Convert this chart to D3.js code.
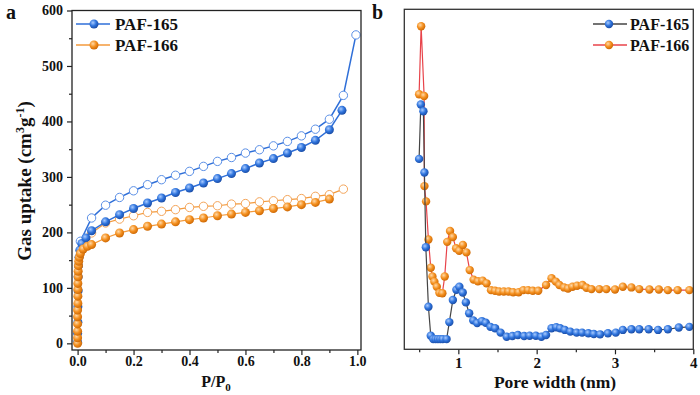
<!DOCTYPE html>
<html>
<head>
<meta charset="utf-8">
<script src="https://cdn.jsdelivr.net/npm/d3@7/dist/d3.min.js"></script>
<style>
  body { margin: 0; background: #fff; }
  svg { display: block; font-family: "Liberation Serif", "Times New Roman", serif; font-weight: bold; }
</style>
</head>
<body>
<svg id="canvas" width="700" height="395"></svg>
<script>
"use strict";

// === Panel a: N2 isotherms (P/P0, uptake cm3/g) ===
let paf165Ads = [
  [0.0, 2], [0.0, 18], [0.001, 38], [0.001, 66], [0.002, 95], [0.002, 120], [0.003, 140],
  [0.005, 155], [0.008, 168], [0.015, 180], [0.03, 190], [0.05, 203], [0.1, 219],
  [0.15, 232], [0.2, 243], [0.25, 253], [0.3, 262], [0.35, 272], [0.4, 280], [0.45, 289],
  [0.5, 297], [0.55, 306], [0.6, 315], [0.65, 325], [0.7, 333], [0.75, 343], [0.8, 353],
  [0.85, 366], [0.9, 385], [0.945, 420]
];
let paf165Des = [
  [0.995, 556], [0.95, 447], [0.9, 404], [0.85, 386], [0.8, 374], [0.75, 364], [0.7, 356],
  [0.65, 349], [0.6, 343], [0.55, 335], [0.5, 328], [0.45, 319], [0.4, 310], [0.35, 303],
  [0.3, 295], [0.25, 286], [0.2, 275], [0.15, 263], [0.1, 249], [0.05, 226], [0.01, 184]
];
let paf166Ads = [
  [0.0, 0], [0.0, 10], [0.0, 22], [0.0, 35], [0.0, 48], [0.0, 60], [0.001, 72], [0.001, 85],
  [0.001, 97], [0.001, 108], [0.002, 120], [0.002, 130], [0.003, 140], [0.004, 148],
  [0.006, 155], [0.01, 162], [0.02, 170], [0.035, 175], [0.05, 178], [0.1, 190],
  [0.15, 199], [0.2, 205], [0.25, 211], [0.3, 215], [0.35, 219], [0.4, 223], [0.45, 226],
  [0.5, 230], [0.55, 233], [0.6, 236], [0.65, 239], [0.7, 243], [0.75, 246], [0.8, 250],
  [0.85, 254], [0.9, 260]
];
let paf166Des = [
  [0.95, 278], [0.9, 268], [0.85, 265], [0.8, 261], [0.75, 259], [0.7, 257], [0.65, 255],
  [0.6, 252], [0.55, 251], [0.5, 248], [0.45, 247], [0.4, 245], [0.35, 241], [0.3, 238],
  [0.25, 236], [0.2, 230], [0.15, 224], [0.1, 217], [0.05, 199], [0.01, 168]
];
let isoYTicks = [0, 100, 200, 300, 400, 500, 600];
let isoXTicks = [0, 0.2, 0.4, 0.6, 0.8, 1.0];

// === Panel b: pore size distribution (pore width nm, relative dV) ===
let psd165 = [
  [0.499, 56], [0.521, 72], [0.554, 70], [0.567, 52], [0.585, 30], [0.618, 12.5], [0.648, 4],
  [0.68, 3], [0.71, 3], [0.74, 3], [0.77, 3], [0.8, 3], [0.85, 3], [0.885, 8], [0.93, 14.5],
  [0.975, 17.5], [1.013, 18.4], [1.056, 16.7], [1.096, 13.8], [1.138, 10.6], [1.19, 8.5],
  [1.24, 7.7], [1.3, 8.3], [1.35, 7.8], [1.41, 6.6], [1.47, 6.2], [1.54, 4.9], [1.617, 3.7],
  [1.69, 3.9], [1.76, 4.2], [1.84, 3.9], [1.91, 4.0], [1.99, 4.0], [2.06, 3.7], [2.12, 4.2],
  [2.19, 6.2], [2.25, 6.5], [2.3, 6.2], [2.36, 5.7], [2.43, 5.2], [2.51, 4.9], [2.58, 4.9],
  [2.66, 4.7], [2.73, 4.5], [2.81, 4.4], [2.91, 4.7], [3.01, 4.9], [3.1, 5.7], [3.21, 5.9],
  [3.31, 5.9], [3.43, 5.9], [3.55, 5.7], [3.675, 5.9], [3.815, 6.4], [3.95, 6.6]
];
let psd166 = [
  [0.499, 75], [0.525, 95], [0.563, 74.5], [0.567, 48], [0.588, 43.5], [0.618, 32.3],
  [0.648, 24], [0.669, 21.4], [0.694, 19.9], [0.725, 18.4], [0.758, 16.6], [0.796, 16.5],
  [0.826, 21.4], [0.858, 31.6], [0.894, 34.8], [0.93, 33], [0.971, 29.7], [1.011, 29],
  [1.058, 30.7], [1.103, 28.5], [1.145, 23.3], [1.195, 20.5], [1.25, 20], [1.31, 20.2],
  [1.36, 19.4], [1.417, 17.4], [1.468, 17.2], [1.52, 17], [1.58, 17], [1.64, 17], [1.7, 16.8],
  [1.77, 16.8], [1.83, 17.4], [1.89, 17.4], [1.95, 17.2], [2.02, 17.2], [2.12, 18.9],
  [2.19, 20.9], [2.245, 19.9], [2.29, 18.9], [2.35, 18.2], [2.4, 17.9], [2.457, 18.4],
  [2.516, 18.7], [2.585, 18.9], [2.636, 18.1], [2.7, 17.7], [2.8, 17.7], [2.89, 17.7],
  [3.0, 17.6], [3.1, 18.4], [3.21, 18.2], [3.31, 17.7], [3.44, 17.6], [3.56, 17.6],
  [3.675, 17.4], [3.8, 17.4], [3.95, 17.4]
];
let psdXTicks = [1, 2, 3, 4];

let svg = d3.select("#canvas");

// === Ball gradients for filled markers ===
let defs = svg.append("defs");
function ballGradient(id, light, base, dark) {
  let g = defs.append("radialGradient").attr("id", id)
    .attr("cx", "38%").attr("cy", "35%").attr("r", "65%");
  g.append("stop").attr("offset", "0%").attr("stop-color", light);
  g.append("stop").attr("offset", "55%").attr("stop-color", base);
  g.append("stop").attr("offset", "100%").attr("stop-color", dark);
}
ballGradient("ballBlue", "#a9cbff", "#2f74dd", "#1b4ea8");
ballGradient("ballOrange", "#ffd9a8", "#f4901f", "#cf6a06");

let blue = "#2f6fd8", orange = "#f39a3c";

// === Helper: draw a series of markers with connecting line ===
function drawSeries(g, data, x, y, lineColor, lineWidth, markerFill, markerStroke, r) {
  g.append("path")
    .datum(data)
    .attr("fill", "none")
    .attr("stroke", lineColor)
    .attr("stroke-width", lineWidth)
    .attr("d", d3.line().x(d => x(d[0])).y(d => y(d[1])));
  g.selectAll(null)
    .data(data)
    .enter().append("circle")
    .attr("cx", d => x(d[0]))
    .attr("cy", d => y(d[1]))
    .attr("r", r)
    .attr("fill", markerFill)
    .attr("stroke", markerStroke)
    .attr("stroke-width", markerStroke === "none" ? 0 : 1);
}

function styleAxis(g) {
  g.select(".domain").remove();
  g.selectAll("line").attr("stroke", "#222").attr("stroke-width", 1.2);
  g.selectAll("text").attr("fill", "#111")
    .style("font-family", "'Liberation Serif', serif").style("font-weight", "bold");
}

// === Panel a ===
let xa = d3.scaleLinear().domain([-0.02, 1.013]).range([72, 361]);
let ya = d3.scaleLinear().domain([-12, 600]).range([350, 10.5]);

let ga = svg.append("g");
ga.append("g").attr("transform", "translate(72,0)")
  .call(d3.axisLeft(ya).tickValues(d3.range(50, 600, 100)).tickSize(3).tickFormat(""))
  .call(styleAxis);
ga.append("g").attr("transform", "translate(72,0)")
  .call(d3.axisLeft(ya).tickValues(isoYTicks).tickSize(5).tickPadding(4))
  .call(styleAxis)
  .selectAll("text").style("font-size", "14px");
ga.append("g").attr("transform", "translate(0,350)")
  .call(d3.axisBottom(xa).tickValues(d3.range(0.1, 1.0, 0.2)).tickSize(3).tickFormat(""))
  .call(styleAxis);
ga.append("g").attr("transform", "translate(0,350)")
  .call(d3.axisBottom(xa).tickValues(isoXTicks).tickSize(5).tickPadding(1).tickFormat(d3.format(".1f")))
  .call(styleAxis)
  .selectAll("text").style("font-size", "14px");

drawSeries(ga, paf166Des, xa, ya, orange, 1.2, "#fff", "#f4a55a", 4.2);
drawSeries(ga, paf165Des, xa, ya, blue, 1.5, "#fff", "#5a8fe6", 4.2);
drawSeries(ga, paf165Ads, xa, ya, blue, 1.5, "url(#ballBlue)", "none", 4.5);
drawSeries(ga, paf166Ads, xa, ya, orange, 1.2, "url(#ballOrange)", "none", 4.5);

ga.append("rect").attr("x", 72).attr("y", 10.5).attr("width", 289).attr("height", 339.5)
  .attr("fill", "none").attr("stroke", "#222").attr("stroke-width", 1.3);

// legend a
[["PAF-165", blue, "url(#ballBlue)", 24], ["PAF-166", orange, "url(#ballOrange)", 45]].forEach(l => {
  ga.append("line").attr("x1", 76).attr("x2", 110).attr("y1", l[3]).attr("y2", l[3])
    .attr("stroke", l[1]).attr("stroke-width", 1.5);
  ga.append("circle").attr("cx", 94).attr("cy", l[3]).attr("r", 4.5).attr("fill", l[2]);
  ga.append("text").attr("x", 115).attr("y", l[3] + 5.5).attr("font-size", 17).attr("fill", "#111").text(l[0]);
});

// titles a
ga.append("text").attr("x", 6).attr("y", 19).attr("font-size", 20).attr("fill", "#111").text("a");
let yt = ga.append("text").attr("transform", "translate(31,181) rotate(-90)")
  .attr("text-anchor", "middle").attr("font-size", 19).attr("fill", "#111");
yt.append("tspan").text("Gas uptake (cm");
yt.append("tspan").attr("dy", -7).attr("font-size", 12).text("3");
yt.append("tspan").attr("dy", 7).text("g");
yt.append("tspan").attr("dy", -7).attr("font-size", 12).text("-1");
yt.append("tspan").attr("dy", 7).text(")");
let xt = ga.append("text").attr("x", 216).attr("y", 387).attr("text-anchor", "middle")
  .attr("font-size", 16).attr("fill", "#111");
xt.append("tspan").text("P/P");
xt.append("tspan").attr("dy", 4).attr("font-size", 11).text("0");

// === Panel b ===
let xb = d3.scaleLinear().domain([0.31, 4.0]).range([404.3, 693.3]);
let yb = d3.scaleLinear().domain([0, 100]).range([349.3, 9.3]);

let gb = svg.append("g");
gb.append("g").attr("transform", "translate(0,349.3)")
  .call(d3.axisBottom(xb).tickValues([0.5, 1.5, 2.5, 3.5]).tickSize(3).tickFormat(""))
  .call(styleAxis);
gb.append("g").attr("transform", "translate(0,349.3)")
  .call(d3.axisBottom(xb).tickValues(psdXTicks).tickSize(5).tickPadding(3).tickFormat(d3.format("d")))
  .call(styleAxis)
  .selectAll("text").style("font-size", "15px");

drawSeries(gb, psd166, xb, yb, "#e8434a", 1.2, "url(#ballOrange)", "none", 4.2);
drawSeries(gb, psd165, xb, yb, "#444", 1.2, "url(#ballBlue)", "none", 4.2);

gb.append("rect").attr("x", 404.3).attr("y", 9.3).attr("width", 289).attr("height", 340)
  .attr("fill", "none").attr("stroke", "#333").attr("stroke-width", 1.3);

[["PAF-165", "#444", "url(#ballBlue)", 24], ["PAF-166", "#e8434a", "url(#ballOrange)", 45]].forEach(l => {
  gb.append("line").attr("x1", 593).attr("x2", 627).attr("y1", l[3]).attr("y2", l[3])
    .attr("stroke", l[1]).attr("stroke-width", 1.3);
  gb.append("circle").attr("cx", 609).attr("cy", l[3]).attr("r", 4.2).attr("fill", l[2]);
  gb.append("text").attr("x", 630).attr("y", l[3] + 5.5).attr("font-size", 16).attr("fill", "#111").text(l[0]);
});

gb.append("text").attr("x", 372).attr("y", 19).attr("font-size", 20).attr("fill", "#111").text("b");
gb.append("text").attr("x", 555).attr("y", 388).attr("text-anchor", "middle")
  .attr("font-size", 17.5).attr("fill", "#111").text("Pore width (nm)");
</script>
</body>
</html>
